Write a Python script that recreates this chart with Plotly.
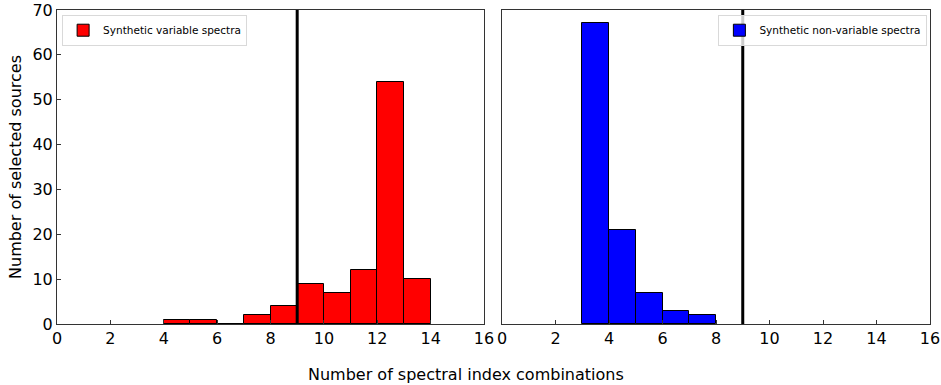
import plotly.graph_objects as go

bin_left_var = [4, 5, 6, 7, 8, 9, 10, 11, 12, 13]
counts_var = [1, 1, 0, 2, 4, 9, 7, 12, 54, 10]
bin_left_nonvar = [3, 4, 5, 6, 7]
counts_nonvar = [67, 21, 7, 3, 2]
threshold = 9
xticks = [0, 2, 4, 6, 8, 10, 12, 14, 16]
yticks = [0, 10, 20, 30, 40, 50, 60, 70]

fig = go.Figure()
fig.add_trace(go.Bar(
    x=[b + 0.5 for b in bin_left_var], y=counts_var, width=1,
    marker=dict(color="#ff0000", line=dict(color="black", width=1)),
    name="Synthetic variable spectra", xaxis="x", yaxis="y", legend="legend", showlegend=True))
fig.add_trace(go.Bar(
    x=[b + 0.5 for b in bin_left_nonvar], y=counts_nonvar, width=1,
    marker=dict(color="#0000ff", line=dict(color="black", width=1)),
    name="Synthetic non-variable spectra", xaxis="x2", yaxis="y2", legend="legend2", showlegend=True))

for xr, yr in [("x", "y"), ("x2", "y2")]:
    fig.add_shape(type="line", xref=xr, yref=yr + " domain", x0=threshold, x1=threshold,
                  y0=0, y1=1, line=dict(color="black", width=3))

W, H = 941, 385
l, r, t, b = 57, 11, 10, 61
pw = W - l - r
d1 = (484 - 57) / pw
d2s = (502 - 57) / pw
axcommon = dict(range=[0, 16], tickvals=xticks, ticks="inside", ticklen=4, tickcolor="#333",
                showline=True, linecolor="#333", linewidth=1, mirror=True, showgrid=False,
                zeroline=False, tickfont=dict(size=16, color="black"), automargin=False)
yaxcommon = dict(range=[0, 70], tickvals=yticks, ticklen=4, tickcolor="#333",
                 showline=True, linecolor="#333", linewidth=1, mirror=True, showgrid=False,
                 zeroline=False, tickfont=dict(size=16, color="black"), automargin=False)

fig.update_layout(
    width=W, height=H, margin=dict(l=l, r=r, t=t, b=b, autoexpand=False),
    plot_bgcolor="white", paper_bgcolor="white",
    font=dict(family="DejaVu Sans", color="black"),
    bargap=0, showlegend=True,
    xaxis=dict(domain=[0, d1], anchor="y", **axcommon),
    yaxis=dict(domain=[0, 1], anchor="x", ticks="inside",
               title=dict(text="Number of selected sources", font=dict(size=16), standoff=6),
               **yaxcommon),
    xaxis2=dict(domain=[d2s, 1], anchor="y2", **axcommon),
    yaxis2=dict(domain=[0, 1], anchor="x2", ticks="", showticklabels=False, **yaxcommon),
    legend=dict(x=0.012 * d1, y=0.985, xanchor="left", yanchor="top", bgcolor="rgba(255,255,255,0.8)",
                bordercolor="#d9d9d9", borderwidth=1, font=dict(size=10.5), visible=True),
    legend2=dict(x=0.997, y=0.985, xanchor="right", yanchor="top", bgcolor="rgba(255,255,255,0.8)",
                 bordercolor="#d9d9d9", borderwidth=1, font=dict(size=10.5), visible=True),
    annotations=[dict(text="Number of spectral index combinations", xref="paper", yref="paper",
                      x=(466 - 57) / pw, y=0, yshift=-50, xanchor="center", yanchor="middle",
                      showarrow=False, font=dict(size=16))],
)

fig.write_html("out.html")
